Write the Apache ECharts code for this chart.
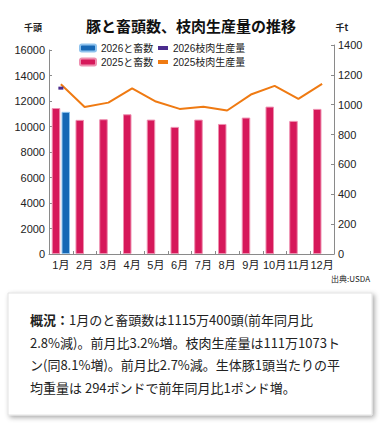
<!DOCTYPE html>
<html><head><meta charset="utf-8">
<script src="https://cdn.jsdelivr.net/npm/echarts@6/dist/echarts.min.js"></script>
<style>html,body{margin:0;padding:0;background:#fff}#c{width:382px;height:429px}</style>
</head><body><div id="c"></div>
<script>
var months = ['1月','2月','3月','4月','5月','6月','7月','8月','9月','10月','11月','12月'];
var head2025 = [11450, 10520, 10570, 10960, 10540, 9970, 10540, 10200, 10700, 11560, 10440, 11380];
var head2026 = [11150, null, null, null, null, null, null, null, null, null, null, null];
var prod2025 = [1137, 985, 1014, 1110, 1021, 972, 987, 961, 1068, 1126, 1039, 1139];
var prod2026 = [1111, null, null, null, null, null, null, null, null, null, null, null];
var leftTicks = {min: 0, max: 16000, interval: 2000};
var rightTicks = {min: 0, max: 1400, interval: 200};

var FONT = '"Noto Sans CJK JP", sans-serif';
var NUMFONT = '"Liberation Sans", "Noto Sans CJK JP", sans-serif';
var chart = echarts.init(document.getElementById('c'), null, {renderer: 'svg'});
var axisGray = '#8a8a8a';
function yAxisCfg(grid, t, pos, name, nameGap, pad) {
  return {
    type: 'value', gridIndex: grid, position: pos, min: t.min, max: t.max, interval: t.interval,
    name: name, nameLocation: 'end', nameGap: nameGap,
    nameTextStyle: {fontFamily: FONT, fontSize: 9, fontWeight: 'bold', color: '#222', padding: pad},
    axisLine: {show: true, lineStyle: {color: axisGray, width: 1}},
    axisTick: {show: true, inside: true, length: 3, lineStyle: {color: axisGray}},
    axisLabel: {fontFamily: NUMFONT, fontSize: 11, color: '#222', margin: 4,
      formatter: function (v) { return String(v); }},
    splitLine: {show: false}
  };
}
chart.setOption({
  backgroundColor: '#fff',
  animation: false,
  title: {text: '豚と畜頭数、枝肉生産量の推移', left: 'center', top: 13,
    textStyle: {fontFamily: FONT, fontSize: 15, fontWeight: 'bold', color: '#111'}},
  legend: [
    {data: ['2026と畜数', '2025と畜数'], orient: 'vertical', left: 74, top: 37, itemGap: 2,
      itemWidth: 16, itemHeight: 7, textStyle: {fontFamily: NUMFONT, fontSize: 10, color: '#222', lineHeight: 12}},
    {data: ['2026枝肉生産量', '2025枝肉生産量'], orient: 'vertical', left: 153, top: 37, itemGap: 2,
      icon: 'rect', itemWidth: 10, itemHeight: 4, textStyle: {fontFamily: NUMFONT, fontSize: 10, color: '#222', lineHeight: 12}}
  ],
  grid: [
    {left: 49, right: 48, top: 50, bottom: 175, containLabel: false},
    {left: 49, right: 48, top: 45, bottom: 175, containLabel: false}
  ],
  xAxis: [
    {type: 'category', gridIndex: 0, data: months, boundaryGap: true,
      axisLine: {lineStyle: {color: axisGray, width: 1}},
      axisTick: {show: true, inside: true, length: 3, lineStyle: {color: axisGray}},
      axisLabel: {interval: 0, fontFamily: NUMFONT, fontSize: 11, color: '#222', margin: 5}},
    {type: 'category', gridIndex: 1, data: months, show: false}
  ],
  yAxis: [
    yAxisCfg(0, leftTicks, 'left', '千頭', 18, [0, 32, 0, 0]),
    yAxisCfg(1, rightTicks, 'right', '千t', 13, [0, 0, 0, 16])
  ],
  series: [
    {name: '2025と畜数', type: 'bar', xAxisIndex: 0, yAxisIndex: 0, data: head2025,
      barWidth: 8.5, barGap: '15%',
      itemStyle: {color: '#d6185a', borderColor: '#ee8fb0', borderWidth: 1}},
    {name: '2026と畜数', type: 'bar', xAxisIndex: 0, yAxisIndex: 0, data: head2026,
      barWidth: 8.5,
      itemStyle: {color: '#1667b5', borderColor: '#8fc3ee', borderWidth: 1}},
    {name: '2025枝肉生産量', type: 'line', xAxisIndex: 1, yAxisIndex: 1, data: prod2025,
      showSymbol: false, color: '#ef7a12', lineStyle: {width: 2, color: '#ef7a12'}},
    {name: '2026枝肉生産量', type: 'line', xAxisIndex: 1, yAxisIndex: 1, data: prod2026,
      symbol: 'rect', symbolSize: [5, 3], showSymbol: true, color: '#4b2c8e',
      lineStyle: {width: 2, color: '#4b2c8e'}}
  ],
  graphic: [
    {type: 'text', right: 12, top: 274,
      style: {text: '出典:USDA', fontFamily: FONT, fontSize: 8, fill: '#222'}},
    {type: 'rect', shape: {x: 8, y: 293, width: 364, height: 122},
      style: {fill: '#fff', stroke: '#e2e2e2', lineWidth: 1,
        shadowBlur: 5, shadowOffsetX: 2, shadowOffsetY: 2, shadowColor: 'rgba(0,0,0,0.35)'}},
    {type: 'text', x: 30, y: 308,
      style: {
        text: '{b|概況：}1月のと畜頭数は1115万400頭(前年同月比\n2.8%減)。前月比3.2%増。枝肉生産量は111万1073ト\nン(同8.1%増)。前月比2.7%減。生体豚1頭当たりの平\n均重量は 294ポンドで前年同月比1ポンド増。',
        fontFamily: FONT, fontSize: 13, lineHeight: 22.7, fill: '#222',
        rich: {b: {fontFamily: FONT, fontSize: 13, lineHeight: 22.7, fontWeight: 'bold', fill: '#222'}}
      }}
  ]
});
</script></body></html>
